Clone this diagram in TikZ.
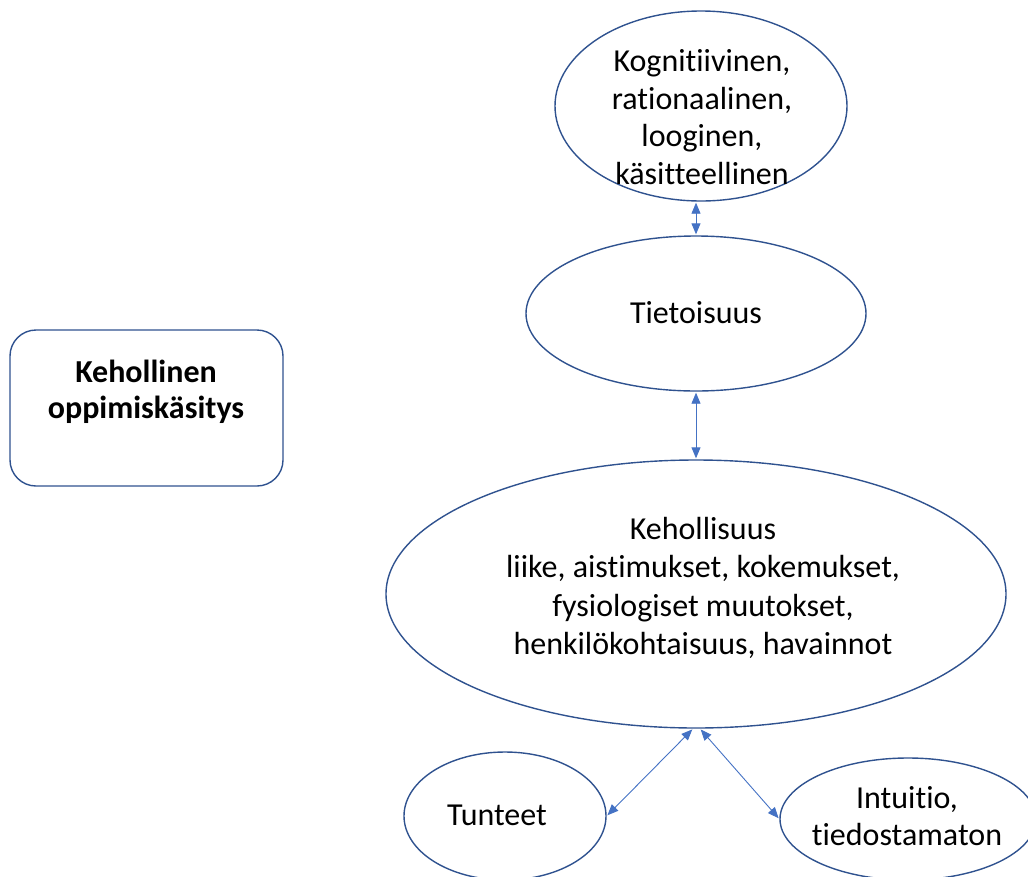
\documentclass[tikz,border=0pt]{standalone}
\usepackage{fontspec}
\setmainfont{Carlito}[Ligatures={NoCommon}]
\usetikzlibrary{shapes.geometric,arrows.meta,calc}
\definecolor{edgeblue}{HTML}{2F528F}
\definecolor{arrowblue}{HTML}{4472C4}
\tikzset{
  oval/.style={ellipse, draw=edgeblue, line width=1.4pt, inner sep=0pt},
  txt/.style={align=center, font=\fontsize{32}{37.5}\selectfont, inner sep=0pt},
  biarrow/.style={draw=arrowblue, line width=0.9pt, {Triangle[length=11pt,width=9pt]}-{Triangle[length=11pt,width=9pt]}, shorten <=1pt, shorten >=1pt},
  titlebox/.style={draw=edgeblue, line width=1.4pt, rounded corners=26pt, minimum width=273pt, minimum height=156pt}
}
\begin{document}
\begin{tikzpicture}[x=1pt,y=-1pt]
\useasboundingbox (0,0) rectangle (1028,876);
\clip (0,0) rectangle (1028,876);
% title box
\node[titlebox] (box) at (146.5,408) {};
\node[txt, font=\fontsize{32}{36}\selectfont\bfseries] (boxtxt) at (146,392) {Kehollinen\\oppimiskäsitys};
% ellipses
\node[oval, minimum width=292pt, minimum height=190pt] (kog) at (701,106) {};
\node[txt] (kogtxt) at (702,117) {Kognitiivinen,\\rationaalinen,\\looginen,\\käsitteellinen};
\node[oval, minimum width=340pt, minimum height=155pt] (tiet) at (696,313.5) {};
\node[txt] (tiettxt) at (696,313) {Tietoisuus};
\node[oval, minimum width=620pt, minimum height=268pt] (keh) at (696,594) {};
\node[txt, font=\fontsize{32}{38.5}\selectfont] (kehtxt) at (703,588) {Kehollisuus\\liike, aistimukset, kokemukset,\\fysiologiset muutokset,\\henkilökohtaisuus, havainnot};
\node[oval, minimum width=202pt, minimum height=128pt] (tun) at (505,816) {};
\node[txt] (tuntxt) at (497,815) {Tunteet};
\node[oval, minimum width=256pt, minimum height=122pt] (int) at (908,819) {};
\node[txt] (inttxt) at (907,816) {Intuitio,\\tiedostamaton};
% connectors
\coordinate (kl) at ($(keh.south)+(-3,0)$);
\coordinate (kr) at ($(keh.south)+(4,0)$);
\draw[biarrow] (kog.south -| tiet.north) -- (tiet.north);
\draw[biarrow] (tiet.south) -- (keh.north);
\draw[biarrow] (kl) -- (tun.east);
\draw[biarrow] (kr) -- (int.west);
\end{tikzpicture}
\end{document}
